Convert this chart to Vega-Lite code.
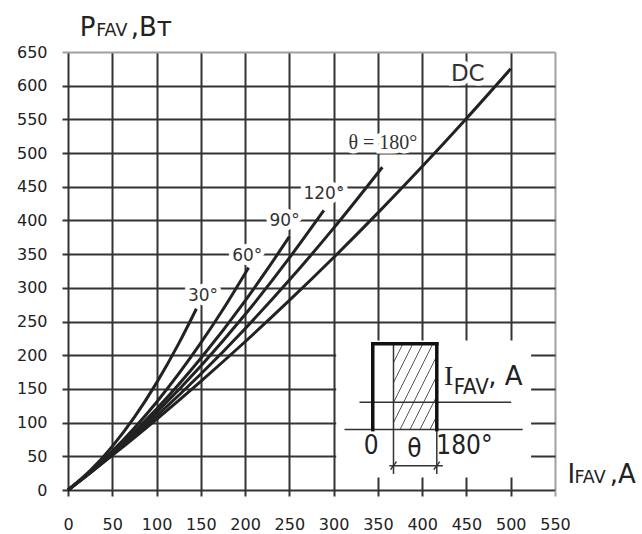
{
  "$schema": "https://vega.github.io/schema/vega-lite/v6.json",
  "width": 487,
  "height": 438,
  "autosize": {"type": "none"},
  "padding": {"left": 68, "top": 52, "right": 87, "bottom": 44},
  "background": "white",
  "config": {"view": {"stroke": null}},
  "datasets": {
    "curves": [
      {"curve": "DC", "I": 0, "P": 0}, {"curve": "DC", "I": 25, "P": 25.3}, {"curve": "DC", "I": 50, "P": 51.3}, {"curve": "DC", "I": 100, "P": 105}, {"curve": "DC", "I": 150, "P": 161.3}, {"curve": "DC", "I": 200, "P": 220}, {"curve": "DC", "I": 250, "P": 281.3}, {"curve": "DC", "I": 300, "P": 345}, {"curve": "DC", "I": 350, "P": 411.3}, {"curve": "DC", "I": 400, "P": 480}, {"curve": "DC", "I": 450, "P": 551.3}, {"curve": "DC", "I": 500, "P": 625},
      {"curve": "180", "I": 0, "P": 0}, {"curve": "180", "I": 25, "P": 25.6}, {"curve": "180", "I": 50, "P": 52.5}, {"curve": "180", "I": 100, "P": 109.8}, {"curve": "180", "I": 150, "P": 172.1}, {"curve": "180", "I": 200, "P": 239.4}, {"curve": "180", "I": 250, "P": 311.5}, {"curve": "180", "I": 300, "P": 388.6}, {"curve": "180", "I": 355, "P": 479},
      {"curve": "120", "I": 0, "P": 0}, {"curve": "120", "I": 25, "P": 25.9}, {"curve": "120", "I": 50, "P": 53.8}, {"curve": "120", "I": 100, "P": 115.1}, {"curve": "120", "I": 150, "P": 184}, {"curve": "120", "I": 200, "P": 260.4}, {"curve": "120", "I": 250, "P": 344.4}, {"curve": "120", "I": 289, "P": 415},
      {"curve": "90", "I": 0, "P": 0}, {"curve": "90", "I": 25, "P": 26.3}, {"curve": "90", "I": 50, "P": 55.1}, {"curve": "90", "I": 100, "P": 120.2}, {"curve": "90", "I": 150, "P": 195.5}, {"curve": "90", "I": 200, "P": 280.8}, {"curve": "90", "I": 225, "P": 327.3}, {"curve": "90", "I": 250, "P": 376},
      {"curve": "60", "I": 0, "P": 0}, {"curve": "60", "I": 25, "P": 26.9}, {"curve": "60", "I": 50, "P": 57.6}, {"curve": "60", "I": 100, "P": 130.3}, {"curve": "60", "I": 150, "P": 218.2}, {"curve": "60", "I": 175, "P": 267.8}, {"curve": "60", "I": 204, "P": 330},
      {"curve": "30", "I": 0, "P": 0}, {"curve": "30", "I": 25, "P": 28.7}, {"curve": "30", "I": 50, "P": 64.8}, {"curve": "30", "I": 75, "P": 108.2}, {"curve": "30", "I": 100, "P": 159}, {"curve": "30", "I": 125, "P": 217.2}, {"curve": "30", "I": 145, "P": 269}
    ],
    "labels": [
      {"text": "30°", "I": 152.4, "P": 288.6, "kind": "angle"},
      {"text": "60°", "I": 202.5, "P": 348, "kind": "angle"},
      {"text": "90°", "I": 244.6, "P": 398.5, "kind": "angle"},
      {"text": "120°", "I": 289, "P": 439.7, "kind": "angle"},
      {"text": "θ = 180°", "I": 355.6, "P": 515.5, "kind": "theta"},
      {"text": "DC", "I": 451.5, "P": 618, "kind": "dc"}
    ],
    "insetbg": [{"I": 302.9, "P": 18.7, "I2": 523, "P2": 221.8}],
    "inset": [
      {"I": 312.3, "P": 89.6, "I2": 513.6, "P2": 89.6, "kind": "thin"},
      {"I": 329.2, "P": 130.1, "I2": 500.5, "P2": 130.1, "kind": "thin"},
      {"I": 367.6, "P": 216.9, "I2": 367.6, "P2": 23.8, "kind": "thin"},
      {"I": 416.5, "P": 89.6, "I2": 416.5, "P2": 23.8, "kind": "thin"},
      {"I": 363, "P": 36.1, "I2": 423.3, "P2": 36.1, "kind": "thin"},
      {"I": 364.3, "P": 30.2, "I2": 371, "P2": 42.1, "kind": "thin"},
      {"I": 413.1, "P": 30.2, "I2": 419.9, "P2": 42.1, "kind": "thin"},
      {"I": 367.6, "P": 189.1, "I2": 378.2, "P2": 216.9, "kind": "hatch"},
      {"I": 367.6, "P": 159.4, "I2": 389.4, "P2": 216.9, "kind": "hatch"},
      {"I": 367.6, "P": 129.7, "I2": 400.7, "P2": 216.9, "kind": "hatch"},
      {"I": 367.6, "P": 100.0, "I2": 412.0, "P2": 216.9, "kind": "hatch"},
      {"I": 375.0, "P": 89.6, "I2": 416.5, "P2": 198.9, "kind": "hatch"},
      {"I": 386.2, "P": 89.6, "I2": 416.5, "P2": 169.2, "kind": "hatch"},
      {"I": 397.5, "P": 89.6, "I2": 416.5, "P2": 139.5, "kind": "hatch"},
      {"I": 408.8, "P": 89.6, "I2": 416.5, "P2": 109.8, "kind": "hatch"},
      {"I": 344.2, "P": 89.6, "I2": 344.2, "P2": 216.9, "kind": "bold"},
      {"I": 344.2, "P": 216.9, "I2": 416.5, "P2": 216.9, "kind": "bold"},
      {"I": 416.5, "P": 216.9, "I2": 416.5, "P2": 89.6, "kind": "bold"}
    ],
    "texts": [
      {"text": "P", "I": 13.2, "P": 673.3, "grp": "big"},
      {"text": "FAV", "I": 31.8, "P": 673.3, "grp": "small"},
      {"text": ",Вт", "I": 70.8, "P": 673.3, "grp": "big"},
      {"text": "I", "I": 564, "P": 9.8, "grp": "big"},
      {"text": "FAV", "I": 571.9, "P": 9.8, "grp": "small"},
      {"text": ",A", "I": 611.7, "P": 9.8, "grp": "big"},
      {"text": ", A", "I": 474.5, "P": 156.4, "grp": "big"},
      {"text": "I", "I": 424.5, "P": 156.4, "grp": "serif"},
      {"text": "FAV", "I": 435.6, "P": 143, "grp": "narrow"},
      {"text": "0", "I": 342.4, "P": 65.8, "grp": "insetnum"},
      {"text": "θ", "I": 391.1, "P": 60.9, "grp": "insetnum"},
      {"text": "180°", "I": 447.8, "P": 65.1, "grp": "insetnum"}
    ]
  },
  "encoding": {
    "x": {
      "field": "I", "type": "quantitative", "title": null,
      "scale": {"domain": [0, 550], "nice": false},
      "axis": {
        "values": [0, 50, 100, 150, 200, 250, 300, 350, 400, 450, 500, 550],
        "grid": true,
        "gridColor": {"condition": {"test": "datum.value === 550", "value": "#a0a0a0"}, "value": "#333333"},
        "gridWidth": 2, "gridOpacity": 1,
        "domain": false,
        "ticks": true, "tickSize": 6, "tickWidth": 2,
        "tickColor": {"condition": {"test": "datum.value === 550", "value": "#a0a0a0"}, "value": "#333333"},
        "labelFont": "DejaVu Sans", "labelFontSize": 16, "labelColor": "#222",
        "labelPadding": 20, "labelFlush": false, "labelOverlap": false
      }
    },
    "y": {
      "field": "P", "type": "quantitative", "title": null,
      "scale": {"domain": [0, 650], "nice": false},
      "axis": {
        "values": [0, 50, 100, 150, 200, 250, 300, 350, 400, 450, 500, 550, 600, 650],
        "grid": true,
        "gridColor": {"condition": {"test": "datum.value === 650", "value": "#a0a0a0"}, "value": "#333333"},
        "gridWidth": 2, "gridOpacity": 1,
        "domain": false,
        "ticks": true, "tickSize": 6, "tickWidth": 2,
        "tickColor": {"condition": {"test": "datum.value === 650", "value": "#a0a0a0"}, "value": "#333333"},
        "labelFont": "DejaVu Sans", "labelFontSize": 16, "labelColor": "#222",
        "labelPadding": 15, "labelFlush": false, "labelOverlap": false
      }
    }
  },
  "layer": [
    {
      "data": {"name": "insetbg"},
      "mark": {"type": "rect", "fill": "white", "stroke": null},
      "encoding": {"x2": {"field": "I2"}, "y2": {"field": "P2"}}
    },
    {
      "data": {"name": "labels"},
      "transform": [{"filter": "datum.kind === 'angle'"}],
      "mark": {"type": "text", "font": "DejaVu Sans", "fontSize": 17, "align": "center", "baseline": "middle", "fill": "white", "stroke": "white", "strokeWidth": 9},
      "encoding": {"text": {"field": "text"}}
    },
    {
      "data": {"name": "labels"},
      "transform": [{"filter": "datum.kind === 'theta'"}],
      "mark": {"type": "text", "font": "Liberation Serif", "fontSize": 20, "align": "center", "baseline": "middle", "fill": "white", "stroke": "white", "strokeWidth": 9},
      "encoding": {"text": {"field": "text"}}
    },
    {
      "data": {"name": "labels"},
      "transform": [{"filter": "datum.kind === 'dc'"}],
      "mark": {"type": "text", "font": "DejaVu Sans", "fontSize": 23, "align": "center", "baseline": "middle", "fill": "white", "stroke": "white", "strokeWidth": 9},
      "encoding": {"text": {"field": "text"}}
    },
    {
      "data": {"name": "curves"},
      "mark": {"type": "line", "interpolate": "monotone", "color": "#222", "strokeWidth": 3, "strokeCap": "butt"},
      "encoding": {"detail": {"field": "curve"}}
    },
    {
      "data": {"name": "labels"},
      "transform": [{"filter": "datum.kind === 'angle'"}],
      "mark": {"type": "text", "font": "DejaVu Sans", "fontSize": 17, "align": "center", "baseline": "middle", "fill": "#333"},
      "encoding": {"text": {"field": "text"}}
    },
    {
      "data": {"name": "labels"},
      "transform": [{"filter": "datum.kind === 'theta'"}],
      "mark": {"type": "text", "font": "Liberation Serif", "fontSize": 20, "align": "center", "baseline": "middle", "fill": "#333"},
      "encoding": {"text": {"field": "text"}}
    },
    {
      "data": {"name": "labels"},
      "transform": [{"filter": "datum.kind === 'dc'"}],
      "mark": {"type": "text", "font": "DejaVu Sans", "fontSize": 23, "align": "center", "baseline": "middle", "fill": "#333"},
      "encoding": {"text": {"field": "text"}}
    },
    {
      "data": {"name": "inset"},
      "transform": [{"filter": "datum.kind === 'hatch'"}],
      "mark": {"type": "rule", "color": "#555", "strokeWidth": 1},
      "encoding": {"x2": {"field": "I2"}, "y2": {"field": "P2"}}
    },
    {
      "data": {"name": "inset"},
      "transform": [{"filter": "datum.kind === 'thin'"}],
      "mark": {"type": "rule", "color": "#333", "strokeWidth": 1.5},
      "encoding": {"x2": {"field": "I2"}, "y2": {"field": "P2"}}
    },
    {
      "data": {"name": "inset"},
      "transform": [{"filter": "datum.kind === 'bold'"}],
      "mark": {"type": "rule", "color": "#111", "strokeWidth": 3.5, "strokeCap": "square"},
      "encoding": {"x2": {"field": "I2"}, "y2": {"field": "P2"}}
    },
    {
      "data": {"name": "texts"},
      "transform": [{"filter": "datum.grp === 'big'"}],
      "mark": {"type": "text", "font": "DejaVu Sans", "fontSize": 26, "align": "left", "baseline": "alphabetic", "fill": "#222"},
      "encoding": {"text": {"field": "text"}}
    },
    {
      "data": {"name": "texts"},
      "transform": [{"filter": "datum.grp === 'small'"}],
      "mark": {"type": "text", "font": "DejaVu Sans", "fontSize": 17.5, "align": "left", "baseline": "alphabetic", "fill": "#222"},
      "encoding": {"text": {"field": "text"}}
    },
    {
      "data": {"name": "texts"},
      "transform": [{"filter": "datum.grp === 'serif'"}],
      "mark": {"type": "text", "font": "Liberation Serif", "fontSize": 28, "align": "left", "baseline": "alphabetic", "fill": "#222"},
      "encoding": {"text": {"field": "text"}}
    },
    {
      "data": {"name": "texts"},
      "transform": [{"filter": "datum.grp === 'narrow'"}],
      "mark": {"type": "text", "font": "Liberation Sans Narrow, DejaVu Sans Condensed, sans-serif", "fontSize": 22, "align": "left", "baseline": "alphabetic", "fill": "#222"},
      "encoding": {"text": {"field": "text"}}
    },
    {
      "data": {"name": "texts"},
      "transform": [{"filter": "datum.grp === 'insetnum'"}],
      "mark": {"type": "text", "font": "Liberation Sans Narrow, DejaVu Sans Condensed, sans-serif", "fontSize": 26, "align": "center", "baseline": "middle", "fill": "#222"},
      "encoding": {"text": {"field": "text"}}
    }
  ]
}
